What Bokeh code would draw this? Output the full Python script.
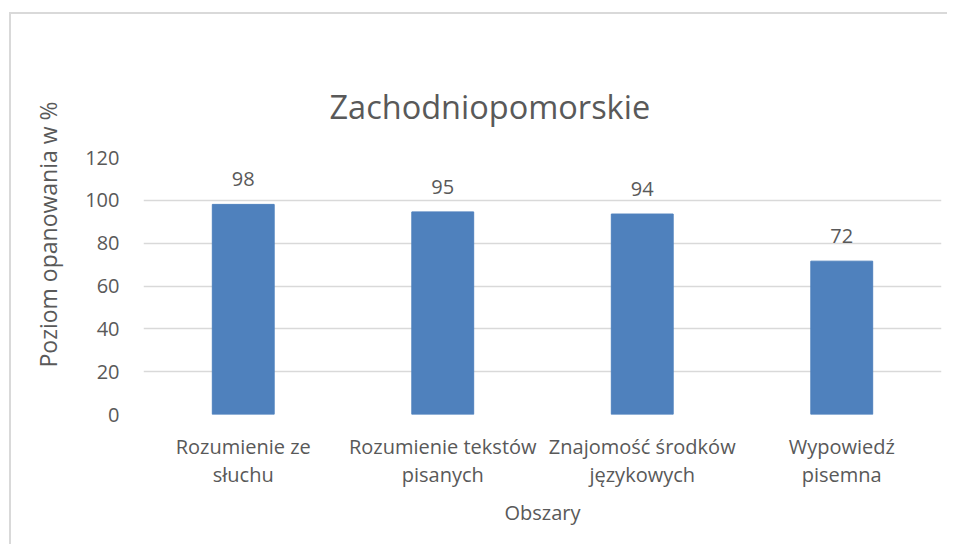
from bokeh.plotting import figure
from bokeh.models import ColumnDataSource, FactorRange, Range1d, FixedTicker, LabelSet, Title
from bokeh.core.properties import value
from bokeh.embed import file_html
from bokeh.resources import INLINE

categories = ["Rozumienie ze\nsłuchu", "Rozumienie tekstów\npisanych",
              "Znajomość środków\njęzykowych", "Wypowiedź\npisemna"]
values = [98.1, 94.6, 93.6, 71.6]
labels = [str(round(v)) for v in values]
y_ticks = [0, 20, 40, 60, 80, 100, 120]
title_text = "Zachodniopomorskie"
x_title = "Obszary"
y_title = "Poziom opanowania w %"

FONT = "Open Sans"
TXT = "#595959"
GRID = "#d9d9d9"
BAR = "#4F81BD"

src = ColumnDataSource(dict(cat=categories, val=values, lab=labels))

p = figure(x_range=FactorRange(factors=categories, range_padding=0),
           y_range=Range1d(0, 120),
           width=938, height=532,
           output_backend="svg", toolbar_location=None,
           min_border_left=132, min_border_right=8,
           min_border_top=143, min_border_bottom=132)

p.styles = {"border-top": "2px solid #d9d9d9", "border-left": "2px solid #d9d9d9"}
p.margin = (12, 0, 0, 9)

p.vbar(x="cat", top="val", width=0.31, source=src, fill_color=BAR, line_color=BAR)

lbl = LabelSet(x="cat", y="val", text="lab", source=src, text_align="center",
               text_baseline="alphabetic", y_offset=18,
               text_font_size="20px", text_color=TXT, text_font=value(FONT))
p.add_layout(lbl)

p.title.text = title_text
p.title.text_font = FONT
p.title.text_font_size = "32.5px"
p.title.text_font_style = "normal"
p.title.text_color = TXT
p.title.align = "left"
p.title.offset = 186
p.title.standoff = 58

yt = Title(text=y_title, align="left", offset=47, standoff=37,
           text_font=FONT, text_font_size="23px", text_font_style="normal",
           text_color=TXT)
p.add_layout(yt, "left")

p.yaxis.ticker = FixedTicker(ticks=y_ticks)
for ax in (p.xaxis, p.yaxis):
    ax.axis_line_color = None
    ax.major_tick_line_color = None
    ax.minor_tick_line_color = None
    ax.major_tick_out = 0
    ax.major_tick_in = 0
    ax.major_label_text_font = FONT
    ax.major_label_text_font_size = "20px"
    ax.major_label_text_color = TXT
p.yaxis.major_label_standoff = 24
p.xaxis.major_label_standoff = 18
p.xaxis.major_label_text_line_height = 1.066
p.xaxis.axis_label = x_title
p.xaxis.axis_label_text_font = FONT
p.xaxis.axis_label_text_font_size = "20px"
p.xaxis.axis_label_text_font_style = "normal"
p.xaxis.axis_label_text_color = TXT
p.xaxis.axis_label_standoff = 8

p.xgrid.visible = False
p.ygrid.grid_line_color = GRID
p.ygrid.grid_line_width = 1.5
p.outline_line_color = None

open("out.html", "w").write(file_html(p, INLINE))
